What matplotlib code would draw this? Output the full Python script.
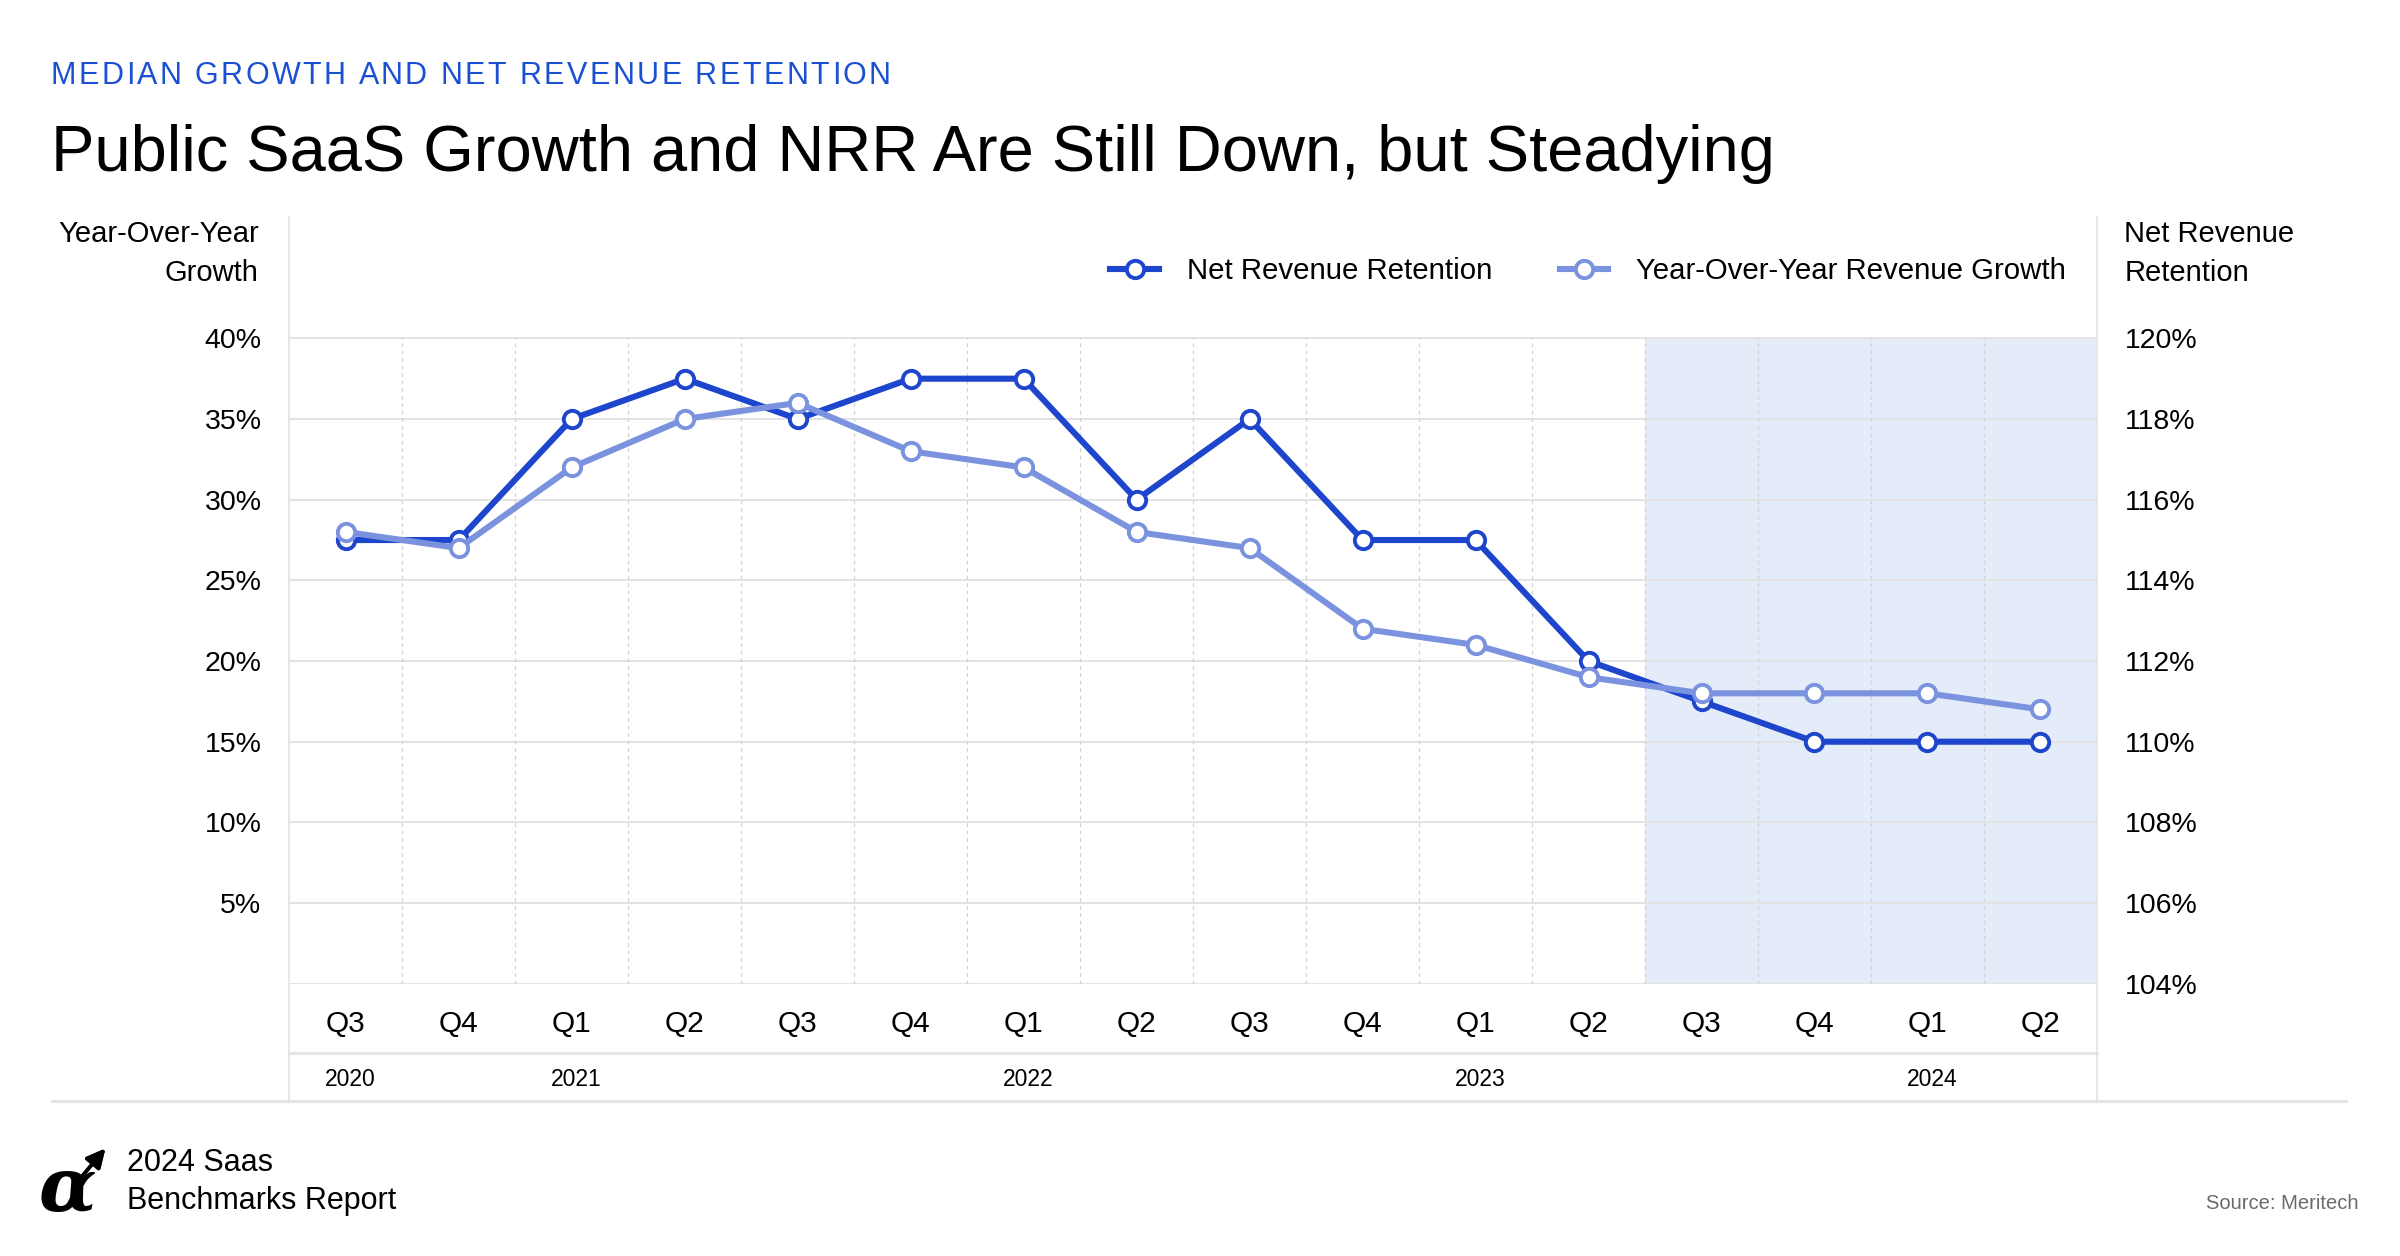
import matplotlib.pyplot as plt
from matplotlib.lines import Line2D
from matplotlib.transforms import blended_transform_factory
import numpy as np


# Data

quarters = ["Q3", "Q4", "Q1", "Q2", "Q3", "Q4", "Q1", "Q2",
            "Q3", "Q4", "Q1", "Q2", "Q3", "Q4", "Q1", "Q2"]
years = ["2020", "2021", "2022", "2023", "2024"]
year_index = [0, 2, 6, 10, 14]

nrr = [115, 115, 118, 119, 118, 119, 119, 116,
       118, 115, 115, 112, 111, 110, 110, 110]
growth = [28, 27, 32, 35, 36, 33, 32, 28,
          27, 22, 21, 19, 18, 18, 18, 17]

growth_ticks = [5, 10, 15, 20, 25, 30, 35, 40]
nrr_ticks = [104, 106, 108, 110, 112, 114, 116, 118, 120]
shade_start = 12   # Q3 2023 onwards is highlighted


# Styling

plt.rcParams['font.family'] = ['Liberation Sans', 'DejaVu Sans']

NRR_COLOR = "#1e46cc"
GROWTH_COLOR = "#7b93df"
ACCENT = "#1a50d2"
GRID = "#e3e3e3"
SHADE = "#e5ecf9"

fig = plt.figure(figsize=(24, 12.56), dpi=100)
renderer = fig.canvas.get_renderer()

# layout positions measured on a 1568 x 820.6 copy of the reference
W, H = 1568, 820.6
def fx(x):
    return x / W
def fy(y):
    return 1 - y / H


def text_width(s, **kw):
    t = fig.text(0, 0, s + "|", **kw)
    bar = fig.text(0, 0, "|", **kw)
    w = t.get_window_extent(renderer).width - bar.get_window_extent(renderer).width
    t.remove()
    bar.remove()
    return w


def tracked_text(x0, y, s, total_width, **kw):
    # letter-spaced text: spread the glyphs so the line spans total_width (px)
    plain = text_width(s, **kw)
    gap = (total_width - plain) / (len(s) - 1)
    for i, ch in enumerate(s):
        if ch == " ":
            continue
        offset = text_width(s[:i], **kw) if i else 0
        fig.text(x0 + (offset + i * gap) / fig.bbox.width, y, ch, **kw)


ax = fig.add_axes([fx(189), fy(642.7), fx(1370) - fx(189), fy(142) - fy(642.7)])
ax2 = ax.twinx()
ax.set_zorder(2)
ax2.set_zorder(1)
ax.patch.set_visible(False)

n = len(quarters)
x = np.arange(n)
ax.set_xlim(-0.5, n - 0.5)
ax.set_ylim(0, 47.5)
ax2.set_ylim(104, 104 + 47.5 * 0.4)

# background: shading, grid
ax2.fill_between([shade_start - 0.5, n - 0.5], 104, 120, color=SHADE, lw=0, zorder=0)
ax2.hlines(nrr_ticks[1:], -0.5, n - 0.5, color=GRID, lw=1.4, zorder=1)
ax2.hlines([104], -0.5, n - 0.5, color=GRID, lw=2.2, zorder=1)
ax2.vlines(np.arange(0.5, n - 1), 104, 120, color="#d2d2d2", lw=0.9,
           linestyles=(0, (3, 3)), zorder=1)

line_kw = dict(lw=4.4, marker="o", markersize=12.5, markeredgewidth=2.8,
               markerfacecolor="white", solid_joinstyle="round")
ax2.plot(x, nrr, color=NRR_COLOR, zorder=3, **line_kw)
ax.plot(x, growth, color=GROWTH_COLOR, zorder=3, **line_kw)

for a in (ax, ax2):
    for s in a.spines.values():
        s.set_visible(False)

ax.set_xticks(x, quarters)
ax.tick_params(axis="x", length=0, pad=19, labelsize=21.5)
ax.set_yticks(growth_ticks, [f"{v}%" for v in growth_ticks])
ax.tick_params(axis="y", length=0, pad=20, labelsize=20.5)
ax2.set_yticks(nrr_ticks, [f"{v}%" for v in nrr_ticks])
ax2.tick_params(axis="y", length=0, pad=20, labelsize=20.5)

# year row
tr = blended_transform_factory(ax.transData, fig.transFigure)
for i, label in zip(year_index, years):
    ax.text(i + 0.04, fy(705), label, transform=tr, ha="center", va="center",
            fontsize=16.5)

# frame lines around the axis rows
for xs, ys, lw in [
    ([189, 189], [142, 719], 1.2),
    ([1370, 1370], [142, 719], 1.2),
    ([189, 1370], [688, 688], 2.0),
    ([34, 1533], [719.5, 719.5], 2.2),
]:
    fig.add_artist(Line2D([fx(v) for v in xs], [fy(v) for v in ys],
                          color=GRID, lw=lw, transform=fig.transFigure))

# legend
handles = [
    Line2D([], [], color=NRR_COLOR, **line_kw),
    Line2D([], [], color=GROWTH_COLOR, **line_kw),
]
ax.legend(handles, ["Net Revenue Retention", "Year-Over-Year Revenue Growth"],
          loc="center right", bbox_to_anchor=((1350 - 189) / 1181, (642.7 - 177) / 500.7),
          ncol=2, frameon=False, fontsize=21.2, handlelength=1.65, handletextpad=0.95,
          columnspacing=2.3, borderpad=0, borderaxespad=0)

# axis titles
fig.text(fx(169), fy(165.5), "Year-Over-Year\nGrowth", ha="right", va="center",
         fontsize=21, linespacing=1.5)
fig.text(fx(1388), fy(165.5), "Net Revenue\nRetention", ha="left", va="center",
         fontsize=21, linespacing=1.5)

# headings
tracked_text(fx(33), fy(55), "MEDIAN GROWTH AND NET REVENUE RETENTION",
             (582 - 33) * fig.bbox.width / W, color=ACCENT, fontsize=22,
             ha="left", va="baseline")
fig.text(fx(33), fy(112), "Public SaaS Growth and NRR Are Still Down, but Steadying",
         fontsize=46.8, ha="left", va="baseline")

# footer
fig.text(fx(25), fy(791), "\u03b1", family="DejaVu Serif", style="italic",
         weight="bold", fontsize=54, ha="left", va="baseline")
fig.add_artist(plt.annotate("", xy=(fx(70), fy(749)), xytext=(fx(49), fy(774)),
                            xycoords="figure fraction", textcoords="figure fraction",
                            arrowprops=dict(arrowstyle="-|>", color="black", lw=2.6,
                                            mutation_scale=28)))
fig.text(fx(83), fy(765), "2024 Saas", fontsize=22, ha="left", va="baseline")
fig.text(fx(83), fy(790), "Benchmarks Report", fontsize=22, ha="left", va="baseline")
fig.text(fx(1541), fy(790), "Source: Meritech", color="#6b6b6b", fontsize=14.5,
         ha="right", va="baseline")

fig.savefig("out.png", dpi=100, facecolor="white")
